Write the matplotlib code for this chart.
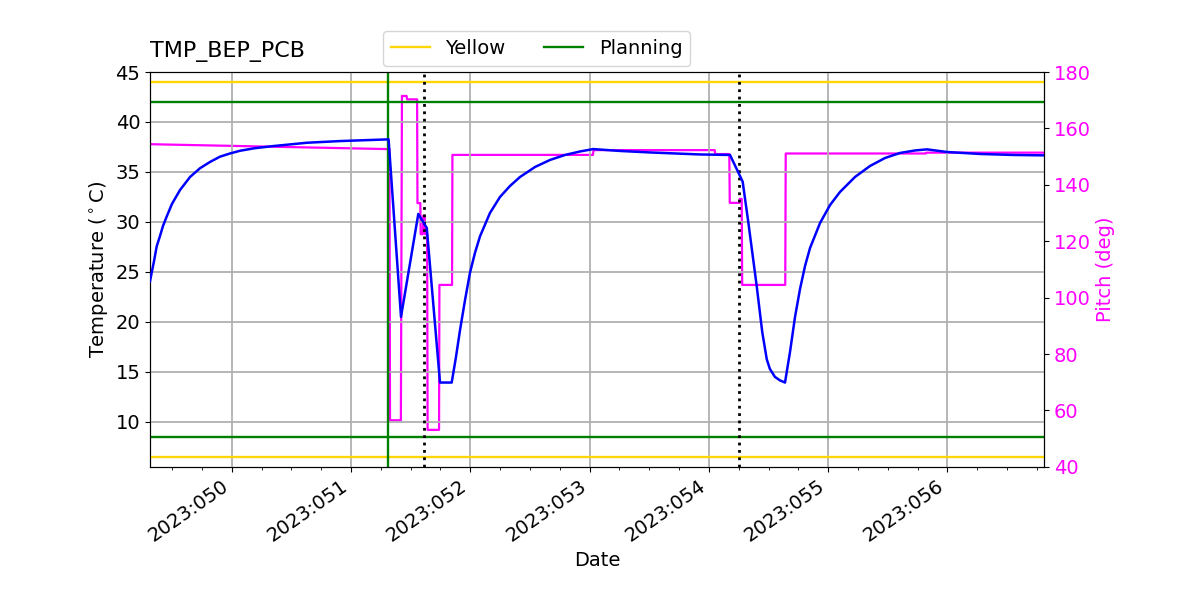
import matplotlib
matplotlib.use("Agg")
import matplotlib.pyplot as plt
import matplotlib.dates as mdates
from matplotlib.lines import Line2D
from datetime import datetime, timedelta

# ---- data (day-of-year 2023, fractional) ----
temp_doy = [49.315, 49.332, 49.349, 49.371, 49.399, 49.424, 49.455, 49.499, 49.567,
            49.651, 49.734, 49.818, 49.902, 49.986, 50.070, 50.195, 50.349, 50.629,
            50.908, 51.315,
            51.419, 51.564, 51.635, 51.746, 51.844,
            51.880, 51.914, 51.956, 51.997, 52.039, 52.081, 52.165, 52.249, 52.333,
            52.417, 52.543, 52.668, 52.794, 52.920, 53.031,
            53.255, 53.507, 53.926, 54.177, 54.283, 54.330, 54.401, 54.447, 54.485,
            54.511, 54.553, 54.595, 54.638,
            54.680, 54.722, 54.764, 54.806, 54.848, 54.932, 55.016, 55.099, 55.225,
            55.351, 55.477, 55.602, 55.728, 55.828,
            55.993, 56.272, 56.549, 56.809]
temp_val = [24.06, 25.1, 26.1, 27.55, 28.6, 29.6, 30.54, 31.8, 33.2,
            34.5, 35.37, 36.0, 36.53, 36.85, 37.12, 37.38, 37.59, 37.92,
            38.09, 38.26,
            20.5, 30.8, 29.4, 13.93, 13.93,
            16.5, 19.2, 22.2, 24.9, 26.9, 28.55, 30.9, 32.5, 33.6,
            34.5, 35.5, 36.2, 36.7, 37.05, 37.29,
            37.1, 36.95, 36.75, 36.7, 34.03, 30.0, 23.56, 19.0, 16.26,
            15.3, 14.5, 14.15, 13.93,
            17.0, 20.5, 23.3, 25.6, 27.4, 29.9, 31.7, 33.0, 34.5,
            35.6, 36.4, 36.9, 37.15, 37.26,
            37.0, 36.8, 36.7, 36.66]

pitch_doy = [49.315, 51.322, 51.327, 51.418, 51.427, 51.466, 51.470, 51.554,
             51.557, 51.581, 51.584, 51.602, 51.605, 51.618, 51.621, 51.638,
             51.642, 51.738, 51.741, 51.847, 51.850, 53.028, 53.033, 54.049,
             54.053, 54.171, 54.175, 54.255, 54.258, 54.275, 54.279, 54.640,
             54.644, 55.818, 55.822, 56.809]
pitch_val = [154.4, 152.65, 56.5, 56.5, 171.5, 171.5, 170.3, 170.3,
             133.5, 133.5, 122.5, 122.5, 129.0, 129.0, 122.5, 122.5,
             53.1, 53.1, 104.5, 104.5, 150.6, 150.6, 152.3, 152.3,
             150.9, 150.9, 133.6, 133.6, 135.0, 135.0, 104.5, 104.5,
             151.1, 151.1, 151.4, 151.4]

yellow_limits = [44.0, 6.5]
planning_limits = [42.0, 8.5]
green_vline_doy = 51.312
dotted_vlines_doy = [51.616, 54.255]
xlim_doy = [49.315, 56.809]

title = "TMP_BEP_PCB"


def doy2num(d):
    return mdates.date2num(datetime(2023, 1, 1) + timedelta(days=d - 1))


tx = [doy2num(d) for d in temp_doy]
px = [doy2num(d) for d in pitch_doy]

fig = plt.figure(figsize=(12, 6), dpi=100)
ax = fig.add_subplot(111)
ax2 = ax.twinx()
fig.subplots_adjust(left=0.125, right=0.87, top=0.88, bottom=0.222)

ax.set_zorder(ax2.get_zorder() + 1)
ax.patch.set_visible(False)

ax2.plot(px, pitch_val, color="magenta", lw=1.6)
ax.plot(tx, temp_val, color="blue", lw=1.8, zorder=5)

for v in yellow_limits:
    ax.axhline(v, color="gold", lw=1.7)
for v in planning_limits:
    ax.axhline(v, color="green", lw=1.7)
ax.axvline(doy2num(green_vline_doy), color="green", lw=1.7)
for d in dotted_vlines_doy:
    ax.axvline(doy2num(d), color="black", lw=2, ls=":")

ax.set_xlim(doy2num(xlim_doy[0]), doy2num(xlim_doy[1]))
ax.set_ylim(5.5, 45)
ax2.set_ylim(40, 180)

ax.xaxis.set_major_locator(mdates.DayLocator())
ax.xaxis.set_minor_locator(mdates.HourLocator(byhour=[0, 6, 12, 18]))
ax.xaxis.set_major_formatter(mdates.DateFormatter("%Y:%j"))
ax.grid(True, color="#b0b0b0", lw=1.3)

ax.tick_params(axis="both", labelsize=14)
ax2.tick_params(axis="y", labelsize=14, labelcolor="magenta")
for lbl in ax.get_xticklabels():
    lbl.set_rotation(35)
    lbl.set_ha("right")

ax.set_xlabel("Date", fontsize=14)
ax.set_ylabel("Temperature ($^\\circ$C)", fontsize=14)
ax2.set_ylabel("Pitch (deg)", fontsize=14, color="magenta")
ax.set_title(title, loc="left", fontsize=16, pad=11)

handles = [Line2D([], [], color="gold", lw=1.7), Line2D([], [], color="green", lw=1.7)]
fig.legend(handles, ["Yellow", "Planning"], loc="lower left", ncol=2, fontsize=14,
           bbox_to_anchor=(383 / 1200, 1 - 66 / 600), bbox_transform=fig.transFigure,
           borderaxespad=0)

fig.savefig("out.png", dpi=100)
